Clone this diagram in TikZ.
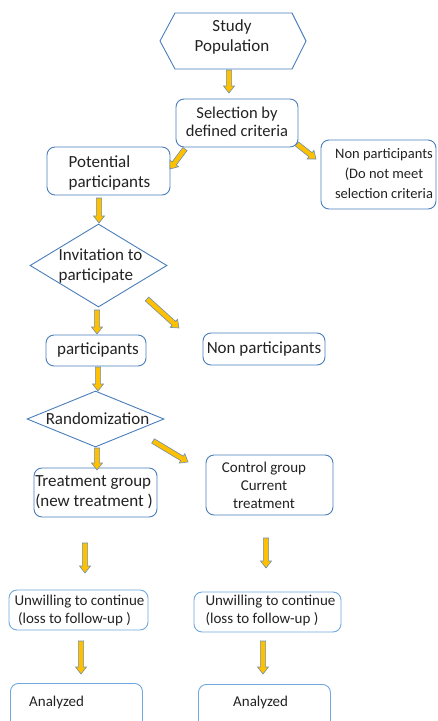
\documentclass[tikz,border=0pt]{standalone}
\usepackage{fontspec}
\setmainfont{Carlito}
\usetikzlibrary{calc,shapes.geometric}

\definecolor{boxblue}{HTML}{4A7EBB}
\definecolor{paleblue}{HTML}{6FA8DC}
\definecolor{arrowgold}{HTML}{FFC000}
\definecolor{arrowedge}{HTML}{6F8FAF}
\definecolor{ink}{HTML}{222222}

\tikzset{
  boxline/.style={draw=boxblue, line width=0.9pt},
  roundbox/.style={boxline, rounded corners=8pt, inner sep=0pt},
  palebox/.style={roundbox, draw=paleblue},
  diam/.style={boxline, diamond, inner sep=0pt},
  lbl/.style={text=ink, inner sep=0pt, align=center, font=\fontsize{17}{20}\selectfont},
  lbll/.style={lbl, align=left},
  barrow/.style={fill=arrowgold, draw=arrowedge, line width=0.6pt, line join=miter},
}

% Block arrow from #1 to #2 (tip at #2): shaft half-width 2.6pt,
% head half-width 5.5pt, head length 7pt.
\newcommand\blockarrow[2]{%
  \path[barrow] let \p1=(#1), \p2=(#2),
      \n1={veclen(\x2-\x1,\y2-\y1)},
      \n2={(\x2-\x1)/\n1}, \n3={(\y2-\y1)/\n1} in
    ({\x1-2.6pt*\n3},{\y1+2.6pt*\n2})
    -- ({\x2-7pt*\n2-2.6pt*\n3},{\y2-7pt*\n3+2.6pt*\n2})
    -- ({\x2-7pt*\n2-5.5pt*\n3},{\y2-7pt*\n3+5.5pt*\n2})
    -- (\x2,\y2)
    -- ({\x2-7pt*\n2+5.5pt*\n3},{\y2-7pt*\n3-5.5pt*\n2})
    -- ({\x2-7pt*\n2+2.6pt*\n3},{\y2-7pt*\n3-2.6pt*\n2})
    -- ({\x1+2.6pt*\n3},{\y1-2.6pt*\n2}) -- cycle;%
}

\begin{document}
\begin{tikzpicture}[x=1pt,y=-1pt]
\useasboundingbox (0,0) rectangle (437,721);

% ---- study population (hexagon)
\draw[boxline] (160,41) -- (175,13) -- (292,13) -- (306,41) -- (292,69) -- (175,69) -- cycle;
\node[lbl] (study) at (232,37) {Study\\Population};

% ---- selection
\node[roundbox, minimum width=122pt, minimum height=48pt] (sel) at (237,123) {};
\node[lbl, font=\fontsize{16.5}{17.5}\selectfont] (selt) at (237,122) {Selection by\\defined criteria};

\node[roundbox, minimum width=123pt, minimum height=48pt] (pot) at (108.5,171) {};
\node[lbll] (pott) at (109.5,173) {Potential\\participants};

\node[roundbox, minimum width=115pt, minimum height=69pt] (nsel) at (378.5,174.5) {};
\node[lbl, font=\fontsize{14.5}{20}\selectfont] (nselt) at (384,174) {Non participants\\(Do not meet\\selection criteria};

% ---- invitation
\node[diam, minimum width=137pt, minimum height=83pt] (inv) at (98.5,265.5) {};
\node[lbll] (invt) at (100.5,266) {Invitation to\\participate};

\node[roundbox, minimum width=100pt, minimum height=31pt] (part) at (96,350.5) {};
\node[lbl] (partt) at (98,350) {participants};

\node[roundbox, minimum width=122pt, minimum height=32pt] (npart) at (264,349) {};
\node[lbl] (npartt) at (264,349) {Non participants};

% ---- randomization
\node[diam, minimum width=137pt, minimum height=56pt] (rand) at (95.5,419) {};
\node[lbl] (randt) at (97.5,419) {Randomization};

\node[roundbox, minimum width=123pt, minimum height=49pt] (treat) at (95.5,492.5) {};
\node[lbll] (treatt) at (94,492.5) {Treatment group\\(new treatment )};

\node[roundbox, minimum width=127pt, minimum height=60pt] (ctrl) at (269.5,485) {};
\node[lbl, font=\fontsize{15}{18}\selectfont] (ctrlt) at (264,485) {Control group\\Current\\treatment};

% ---- follow-up
\node[palebox, minimum width=139pt, minimum height=40pt] (unl) at (78.5,610) {};
\node[lbll, font=\fontsize{15}{18}\selectfont] (unlt) at (79.5,610) {Unwilling to continue\\\hspace*{3.5pt}(loss to follow-up )};

\node[palebox, minimum width=147pt, minimum height=40pt] (unr) at (267.5,612) {};
\node[lbll, font=\fontsize{15}{18}\selectfont] (unrt) at (270.5,610) {Unwilling to continue\\(loss to follow-up )};

% ---- analysed (boxes run past the lower edge)
\node[palebox, minimum width=132pt, minimum height=60pt, anchor=north west] (anl) at (10,683) {};
\node[lbl, font=\fontsize{15}{18}\selectfont, anchor=west] (anlt) at (29,702) {Analyzed};

\node[palebox, minimum width=132pt, minimum height=60pt, anchor=north west] (anr) at (198,684) {};
\node[lbl, font=\fontsize{15}{18}\selectfont, anchor=west] (anrt) at (233,702) {Analyzed};

% ---- arrow end points
\coordinate (a1s) at (229,70);   \coordinate (a1e) at (229,93);
\coordinate (a2s) at (185,149);  \coordinate (a2e) at (170,169);
\coordinate (a3s) at (297,144);  \coordinate (a3e) at (316,159);
\coordinate (a4s) at (99,198);   \coordinate (a4e) at (99,223);
\coordinate (a5s) at (147,299);  \coordinate (a5e) at (179,328);
\coordinate (a6s) at (97,310);   \coordinate (a6e) at (97,334);
\coordinate (a7s) at (98,367);   \coordinate (a7e) at (98,391);
\coordinate (a8s) at (153,441);  \coordinate (a8e) at (188,462);
\coordinate (a9s) at (97,448);   \coordinate (a9e) at (97,470);
\coordinate (a10s) at (85,543);  \coordinate (a10e) at (85,573);
\coordinate (a11s) at (266,538); \coordinate (a11e) at (266,568);
\coordinate (a12s) at (81,641);  \coordinate (a12e) at (81,674);
\coordinate (a13s) at (263,641); \coordinate (a13e) at (263,674);

\foreach \k in {1,...,13}{\blockarrow{a\k s}{a\k e}}
\end{tikzpicture}
\end{document}
